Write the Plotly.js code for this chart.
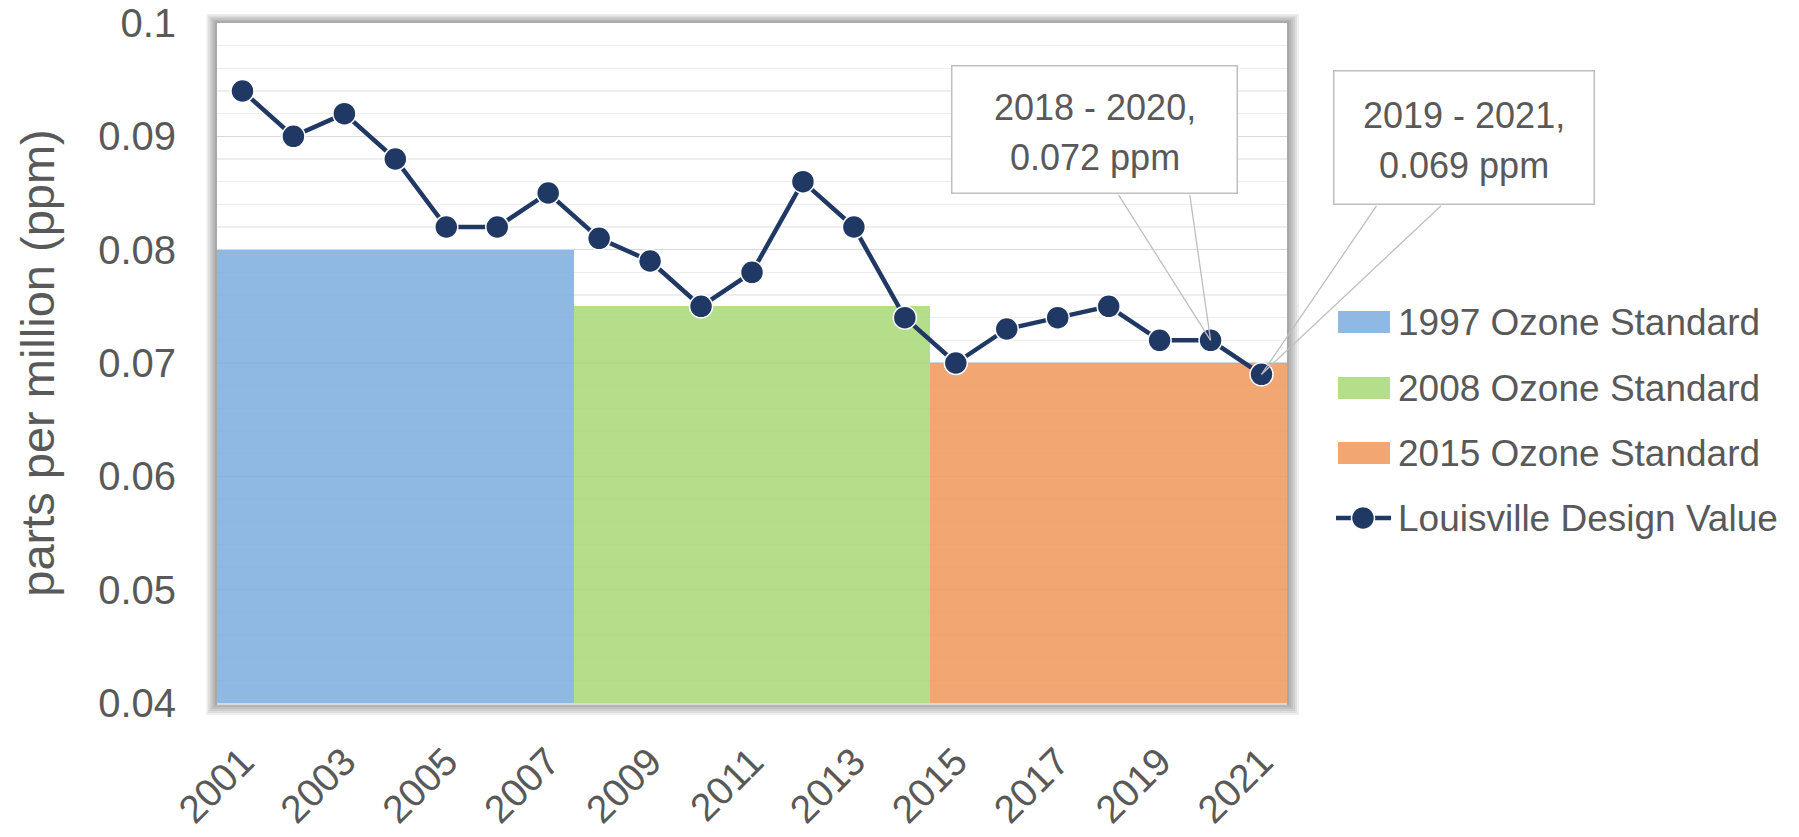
<!DOCTYPE html>
<html>
<head>
<meta charset="utf-8">
<script src="https://cdn.plot.ly/plotly-3.0.1.min.js"></script>
<style>
html,body{margin:0;padding:0;background:#ffffff;}
#chart{width:1799px;height:837px;}
</style>
</head>
<body>
<div id="chart"></div>
<script>
// ---------------- data ----------------
const years = [2001,2002,2003,2004,2005,2006,2007,2008,2009,2010,2011,2012,2013,2014,2015,2016,2017,2018,2019,2020,2021];
const designValue = [0.094,0.090,0.092,0.088,0.082,0.082,0.085,0.081,0.079,0.075,0.078,0.086,0.082,0.074,0.070,0.073,0.074,0.075,0.072,0.072,0.069];
const std1997 = [0.080,0.080,0.080,0.080,0.080,0.080,0.080,null,null,null,null,null,null,null,null,null,null,null,null,null,null];
const std2008 = [null,null,null,null,null,null,null,0.075,0.075,0.075,0.075,0.075,0.075,0.075,null,null,null,null,null,null,null];
const std2015 = [null,null,null,null,null,null,null,null,null,null,null,null,null,null,0.070,0.070,0.070,0.070,0.070,0.070,0.070];
const tickYears = [2001,2003,2005,2007,2009,2011,2013,2015,2017,2019,2021];
const tickLabels = ['2001','2003','2005','2007','2009','2011','2013','2015','2017','2019','2021'];
const seriesNames = ['1997 Ozone Standard','2008 Ozone Standard','2015 Ozone Standard','Louisville Design Value'];
const calloutYears = [2020, 2021];
const calloutLine1 = ['2018 - 2020,','2019 - 2021,'];
const calloutLine2 = ['0.072 ppm','0.069 ppm'];
const yTitle = 'parts per million (ppm)';

// ---------------- style ----------------
const FONT = 'Liberation Sans, Arial, sans-serif';
const TXT = '#595959';
const NAVY = '#203864';
const barColors = ['rgb(123,173,221)','rgb(168,216,117)','rgb(240,150,89)'];
const BAR_OPACITY = 0.85;

const W = 1799, H = 837;
const L = 217, R = 1287, T = 23, B = 703;
const px2x = p => (p - L) / (R - L);
const py2y = p => (B - p) / (B - T);

const barSeries = [std1997, std2008, std2015];
const traces = barSeries.map((vals, i) => ({
  type: 'bar', x: years, y: vals, name: seriesNames[i], width: 1,
  marker: {color: barColors[i], opacity: BAR_OPACITY, line: {width: 0}},
  showlegend: false, hoverinfo: 'skip'
}));
traces.push({
  type: 'scatter', mode: 'lines+markers', x: years, y: designValue, name: seriesNames[3],
  line: {color: NAVY, width: 4.5},
  marker: {size: 23, color: NAVY, line: {color: '#ffffff', width: 1.5}},
  showlegend: false, cliponaxis: false
});

// ---------------- shapes (frame, shadow, legend) ----------------
const shapes = [];
for (let k = 6; k >= 1; k--) {
  shapes.push({type: 'rect', xref: 'paper', yref: 'paper', layer: 'below',
    x0: px2x(L - 1.8 * k), x1: px2x(R + 2.0 * k), y0: py2y(B + 2.0 * k), y1: py2y(T - 1.5 * k),
    fillcolor: 'rgba(0,0,0,0.065)', line: {width: 0}});
}
shapes.push({type: 'rect', xref: 'paper', yref: 'paper', layer: 'below',
  x0: 0, x1: 1, y0: 0, y1: 1, fillcolor: '#ffffff', line: {width: 0}});

const legendCenters = [322, 388, 453, 518];
const annotations = [];
for (let i = 0; i < 3; i++) {
  shapes.push({type: 'rect', xref: 'paper', yref: 'paper',
    x0: px2x(1338), x1: px2x(1390), y0: py2y(legendCenters[i] + 11), y1: py2y(legendCenters[i] - 11),
    fillcolor: barColors[i], opacity: BAR_OPACITY, line: {width: 0}});
}
shapes.push({type: 'line', xref: 'paper', yref: 'paper',
  x0: px2x(1336), x1: px2x(1391), y0: py2y(legendCenters[3]), y1: py2y(legendCenters[3]),
  line: {color: NAVY, width: 4.5}});
shapes.push({type: 'circle', xref: 'paper', yref: 'paper',
  x0: px2x(1363 - 11.5), x1: px2x(1363 + 11.5), y0: py2y(legendCenters[3] + 11.5), y1: py2y(legendCenters[3] - 11.5),
  fillcolor: NAVY, line: {color: '#ffffff', width: 1.5}});
for (let i = 0; i < 4; i++) {
  annotations.push({xref: 'paper', yref: 'paper', x: px2x(1396), y: py2y(legendCenters[i]),
    xanchor: 'left', yanchor: 'middle', showarrow: false, text: seriesNames[i],
    font: {family: FONT, size: 37, color: TXT}});
}

// ---------------- callouts ----------------
const boxShift = [[-116, 211], [202, 237]];
const boxSize = [[284, 126], [259, 132]];
const wedgeTails = [[[-93, -147], [-21, -147]], [[116, -170], [181, -170]]];
calloutYears.forEach((yr, i) => {
  const v = designValue[years.indexOf(yr)];
  wedgeTails[i].forEach(t => {
    annotations.push({xref: 'x', yref: 'y', x: yr, y: v, text: '', showarrow: true,
      ax: t[0], ay: t[1], arrowhead: 0, arrowwidth: 1.3, arrowcolor: '#BFBFBF', standoff: 0, startstandoff: 0});
  });
  annotations.push({xref: 'x', yref: 'y', x: yr, y: v, text: ' ', showarrow: false,
    xshift: boxShift[i][0], yshift: boxShift[i][1], xanchor: 'center', yanchor: 'middle',
    width: boxSize[i][0], height: boxSize[i][1],
    bgcolor: '#ffffff', bordercolor: '#BFBFBF', borderwidth: 1.5, borderpad: 0,
    font: {family: FONT, size: 36, color: TXT}});
  [[calloutLine1[i], 22], [calloutLine2[i], -28]].forEach(ln => {
    annotations.push({xref: 'x', yref: 'y', x: yr, y: v, text: ln[0], showarrow: false,
      xshift: boxShift[i][0], yshift: boxShift[i][1] + ln[1], xanchor: 'center', yanchor: 'middle',
      font: {family: FONT, size: 36, color: TXT}});
  });
});

const layout = {
  width: W, height: H,
  margin: {l: L, r: W - R, t: T, b: H - B, pad: 0},
  paper_bgcolor: '#ffffff', plot_bgcolor: 'rgba(0,0,0,0)',
  barmode: 'overlay', bargap: 0,
  font: {family: FONT, color: TXT},
  showlegend: false,
  xaxis: {
    range: [2000.5, 2021.5], tickmode: 'array', tickvals: tickYears, ticktext: tickLabels,
    tickangle: -45, tickfont: {family: FONT, size: 39, color: TXT},
    showgrid: false, zeroline: false, showline: true, linecolor: '#D9D9D9', linewidth: 2,
    ticks: '', ticklabelstandoff: 18, automargin: false, fixedrange: true
  },
  yaxis: {
    range: [0.04, 0.1], tick0: 0.04, dtick: 0.01,
    tickfont: {family: FONT, size: 40, color: TXT},
    showgrid: true, gridcolor: '#D9D9D9', gridwidth: 1.3,
    minor: {dtick: 0.002, showgrid: true, gridcolor: '#EEEEEE', gridwidth: 1.2, ticks: ''},
    zeroline: false, showline: false, ticks: '', ticklabelstandoff: 40,
    title: {text: yTitle, font: {family: FONT, size: 47, color: TXT}, standoff: 28},
    automargin: false, fixedrange: true
  },
  shapes: shapes,
  annotations: annotations
};

Plotly.newPlot('chart', traces, layout, {displayModeBar: false, staticPlot: true});
</script>
</body>
</html>
